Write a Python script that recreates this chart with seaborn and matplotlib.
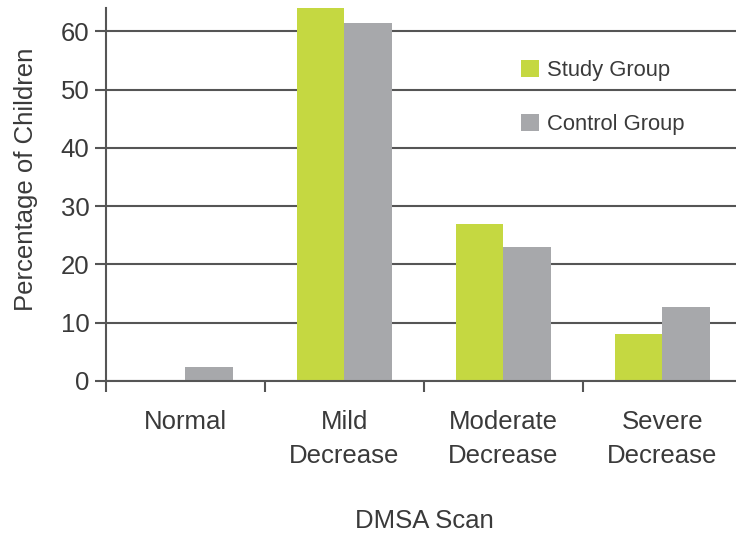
import pandas as pd
import matplotlib.pyplot as plt
import seaborn as sns

categories = ["Normal", "Mild\nDecrease", "Moderate\nDecrease", "Severe\nDecrease"]
groups = ["Study Group", "Control Group"]
study_values = [0, 64, 27, 8]
control_values = [2.4, 61.5, 23, 12.7]
y_ticks = [0, 10, 20, 30, 40, 50, 60]

GREEN = "#c5d841"
GREY = "#a7a8ab"
TEXT = "#3a3a3a"
LINE = "#555555"
FS = 18.5


def build_frame():
    rows = []
    for cat, s, c in zip(categories, study_values, control_values):
        rows.append({"category": cat, "group": groups[0], "value": s})
        rows.append({"category": cat, "group": groups[1], "value": c})
    return pd.DataFrame(rows)


def main():
    sns.set_style("white")
    plt.rcParams["font.family"] = ["Liberation Sans", "DejaVu Sans"]

    df = build_frame()

    fig = plt.figure(figsize=(7.36, 5.35), dpi=100)
    ax = fig.add_axes([0.144, 0.288, 0.864, 0.697])

    sns.barplot(
        data=df, x="category", y="value", hue="group",
        order=categories, hue_order=groups,
        palette=[GREEN, GREY], width=0.6, saturation=1,
        linewidth=0, ax=ax, zorder=2,
    )

    ax.set_ylim(0, 64)
    ax.set_xlim(-0.5, 3.5)
    ax.set_yticks(y_ticks)
    ax.yaxis.grid(True, color=LINE, linewidth=1.5, zorder=1)
    ax.set_axisbelow(True)

    for side in ["top", "right"]:
        ax.spines[side].set_visible(False)
    for side in ["left", "bottom"]:
        ax.spines[side].set_color(LINE)
        ax.spines[side].set_linewidth(1.5)
        ax.spines[side].set_zorder(4)

    ax.tick_params(axis="y", which="major", length=8, width=1.5, color=LINE,
                   labelsize=FS, labelcolor=TEXT, pad=4, left=True)
    ax.tick_params(axis="x", which="major", length=0, labelsize=FS,
                   labelcolor=TEXT, pad=21)
    plt.setp(ax.get_xticklabels(), linespacing=1.5)
    ax.set_xticks([-0.5, 0.5, 1.5, 2.5, 3.5], minor=True)
    ax.tick_params(axis="x", which="minor", length=8, width=1.5, color=LINE,
                   bottom=True, direction="out")

    ax.set_xlabel("DMSA Scan", fontsize=FS, color=TEXT)
    ax.xaxis.set_label_coords(0.5, -0.343)
    ax.set_ylabel("Percentage of Children", fontsize=FS, color=TEXT)
    ax.yaxis.set_label_coords(-0.107, 0.54)

    ax.legend(
        loc="upper left", bbox_to_anchor=(0.696, 0.904),
        bbox_transform=fig.transFigure, borderaxespad=0, frameon=False,
        fontsize=15.8, labelspacing=1.5, handlelength=0.8, handleheight=0.8,
        handletextpad=0.4, labelcolor=TEXT,
    )

    fig.savefig("out.png", dpi=100)


if __name__ == "__main__":
    main()
